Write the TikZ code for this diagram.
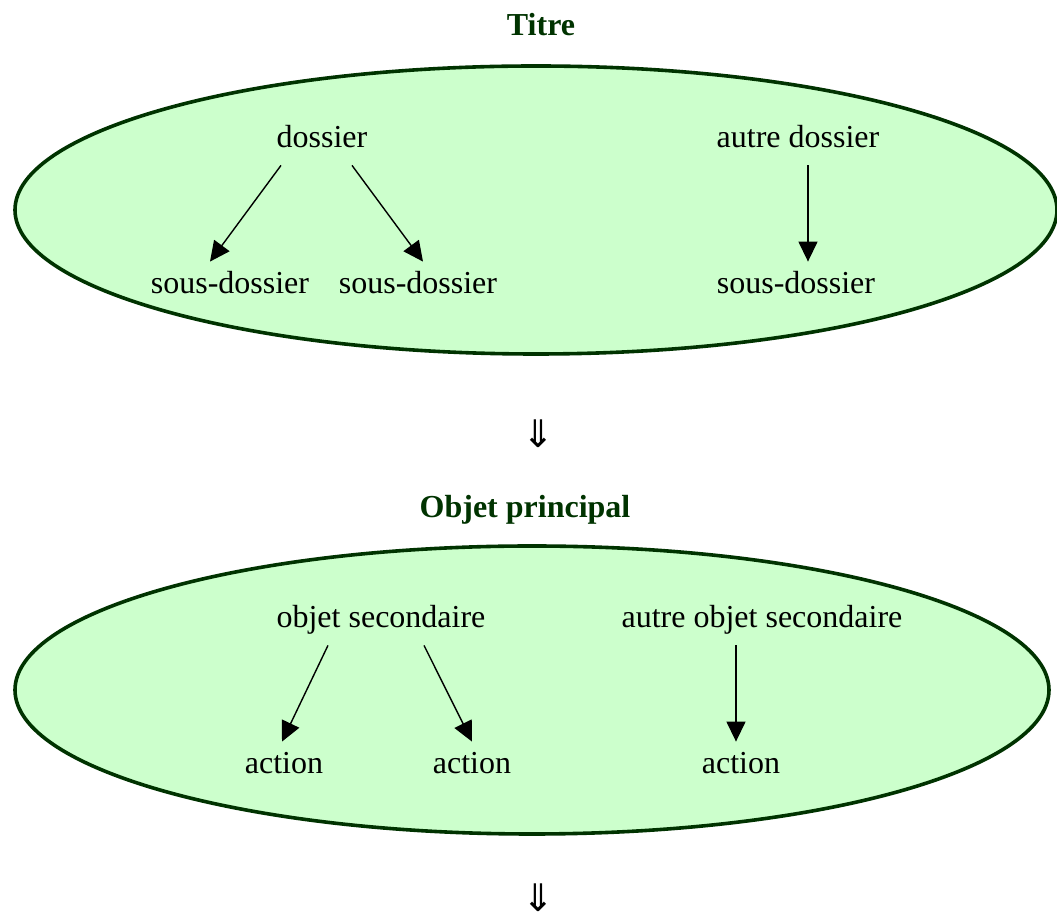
\documentclass[tikz,border=0pt]{standalone}
\usepackage{fontspec}
\setmainfont{Liberation Serif}
\newfontfamily\symboles{DejaVu Sans}
\usetikzlibrary{arrows.meta}

\definecolor{vertfond}{HTML}{CCFFCC}
\definecolor{vertfonce}{HTML}{003300}

\tikzset{
    texte/.style={font=\fontsize{16}{19}\selectfont, text height=11pt, text depth=3.5pt,
        inner xsep=2pt, inner ysep=5pt, anchor=base},
    titre/.style={font=\fontsize{16}{19}\selectfont\bfseries, text=vertfonce, anchor=base},
    bulle/.style={draw=vertfonce, line width=1.8pt, fill=vertfond},
    fleche/.style={-{Triangle[length=10pt,width=9.5pt]}, line width=0.7pt},
    suite/.style={font=\fontsize{19}{22}\selectfont\symboles, inner sep=0pt}
}

\begin{document}
\begin{tikzpicture}[x=0.5pt, y=-0.5pt]
        % Cadre de la page
        \useasboundingbox (0,0) rectangle (1057,924);

        % Premier bloc : Titre
        \node[titre] (titre) at (541,36) {Titre};
        \draw[bulle] (536,210) ellipse [x radius=521, y radius=144];

        % Dossiers et sous-dossiers
        \node[texte] (dossier) at (322,148) {dossier};
        \node[texte] (autredossier) at (798,148) {autre dossier};
        \node[texte] (sousdossierA) at (230,294) {sous-dossier};
        \node[texte] (sousdossierB) at (418,294) {sous-dossier};
        \node[texte] (sousdossierC) at (796,294) {sous-dossier};

        % Liens des dossiers
        \draw[fleche] ([xshift=-20.5pt]dossier.south) -- ([xshift=-10pt]sousdossierA.north);
        \draw[fleche] ([xshift=15pt]dossier.south) -- ([xshift=2.5pt]sousdossierB.north);
        \draw[fleche] ([xshift=5pt]autredossier.south) -- ([xshift=6pt]sousdossierC.north);

        % Passage au bloc suivant
        \node[suite] (flecheA) at (538,434) {⇓};

        % Second bloc : Objet principal
        \node[titre] (objet) at (525,518) {Objet principal};
        \draw[bulle] (532,690) ellipse [x radius=517, y radius=144];

        % Objets secondaires et actions
        \node[texte] (objetsec) at (381,628) {objet secondaire};
        \node[texte] (autreobjetsec) at (762,628) {autre objet secondaire};
        \node[texte] (actionA) at (284,774) {action};
        \node[texte] (actionB) at (472,774) {action};
        \node[texte] (actionC) at (741,774) {action};

        % Liens des objets
        \draw[fleche] ([xshift=-26.5pt]objetsec.south) -- ([xshift=-1pt]actionA.north);
        \draw[fleche] ([xshift=21.5pt]objetsec.south) -- (actionB.north);
        \draw[fleche] ([xshift=-13pt]autreobjetsec.south) -- ([xshift=-2.5pt]actionC.north);

        % Suite
        \node[suite] (flecheB) at (538,898) {⇓};
    \end{tikzpicture}
\end{document}
